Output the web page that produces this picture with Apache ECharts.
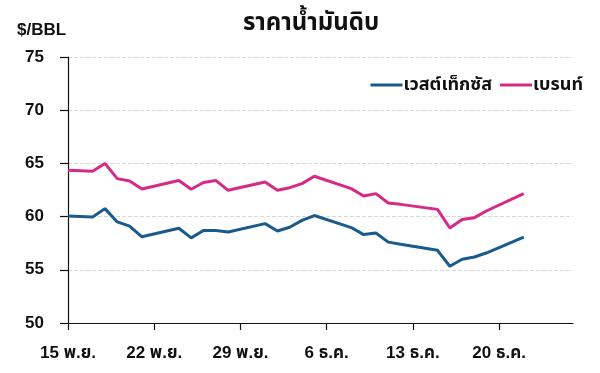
<!DOCTYPE html>
<html>
<head>
<meta charset="utf-8">
<script src="https://cdn.jsdelivr.net/npm/echarts@6/dist/echarts.min.js"></script>
<style>
html,body{margin:0;padding:0;background:#fff;}
#c{width:600px;height:373px;}
</style>
</head>
<body>
<div id="c"></div>
<script>
// Day offsets from 15 Nov
const days = [0,2,3,4,5,6,9,10,11,12,13,16,17,18,19,20,23,24,25,26,27,30,31,32,33,34,37];
const wti = [60.05,59.96,60.75,59.5,59.1,58.1,58.9,58.0,58.7,58.7,58.55,59.34,58.65,59.0,59.65,60.1,58.97,58.31,58.46,57.6,57.4,56.83,55.33,55.99,56.2,56.6,58.08];
const brent = [64.35,64.26,65.0,63.57,63.35,62.6,63.4,62.57,63.2,63.4,62.47,63.25,62.47,62.72,63.1,63.79,62.63,61.94,62.16,61.28,61.15,60.68,58.93,59.72,59.9,60.55,62.16];
const xTickDays = [0,7,14,21,28,35];
const xTickLabels = ['15 พ.ย.','22 พ.ย.','29 พ.ย.','6 ธ.ค.','13 ธ.ค.','20 ธ.ค.'];
const seriesNames = ['เวสต์เท็กซัส','เบรนท์'];
const yTicks = [50,55,60,65,70,75];

const FONT = "'Liberation Sans','Noto Sans Thai','DejaVu Sans',sans-serif";
const chart = echarts.init(document.getElementById('c'), null, {renderer:'canvas'});
chart.setOption({
  animation:false,
  backgroundColor:'#fff',
  title:{
    text:'ราคาน้ำมันดิบ', left:306, top:6, textAlign:'center',
    textStyle:{fontFamily:FONT,fontSize:24,fontWeight:'bold',color:'#111'}
  },
  graphic:[{
    type:'text', left:17, top:22,
    style:{text:'$/BBL', fontFamily:FONT, fontSize:17, fontWeight:'bold', fill:'#111'}
  }],
  legend:{
    right:12, top:71, itemWidth:32, itemHeight:3, itemGap:8,
    icon:'rect',
    textStyle:{fontFamily:FONT,fontSize:18,fontWeight:'bold',color:'#111',padding:[0,0,0,-4]},
    data:seriesNames
  },
  grid:{left:68,right:27,top:57,bottom:50,containLabel:false},
  xAxis:{
    type:'value', min:0, max:41, interval:7,
    axisLine:{show:true,onZero:false,lineStyle:{color:'#111',width:1.2}},
    axisTick:{show:true,length:7,customValues:xTickDays,lineStyle:{color:'#111',width:1.2}},
    splitLine:{show:false},
    axisLabel:{
      margin:22, fontFamily:FONT, fontSize:17, fontWeight:'bold', color:'#111',
      customValues:xTickDays,
      formatter:function(v){const i=xTickDays.indexOf(v);return i>=0?xTickLabels[i]:'';}
    }
  },
  yAxis:{
    type:'value', min:yTicks[0], max:yTicks[yTicks.length-1], interval:5,
    axisLine:{show:true,lineStyle:{color:'#111',width:1.2}},
    axisTick:{show:true,length:8,lineStyle:{color:'#111',width:1.2}},
    splitLine:{show:true,lineStyle:{color:'#d8d8d8',type:[4,2],width:1}},
    axisLabel:{margin:24, fontFamily:FONT, fontSize:17, fontWeight:'bold', color:'#111'}
  },
  series:[
    {name:seriesNames[0], type:'line', showSymbol:false, symbol:'none',
     lineStyle:{color:'#1a5a8c',width:3}, itemStyle:{color:'#1a5a8c'},
     data:days.map((d,i)=>[d,wti[i]])},
    {name:seriesNames[1], type:'line', showSymbol:false, symbol:'none',
     lineStyle:{color:'#d62a86',width:3}, itemStyle:{color:'#d62a86'},
     data:days.map((d,i)=>[d,brent[i]])}
  ]
});
</script>
</body>
</html>
